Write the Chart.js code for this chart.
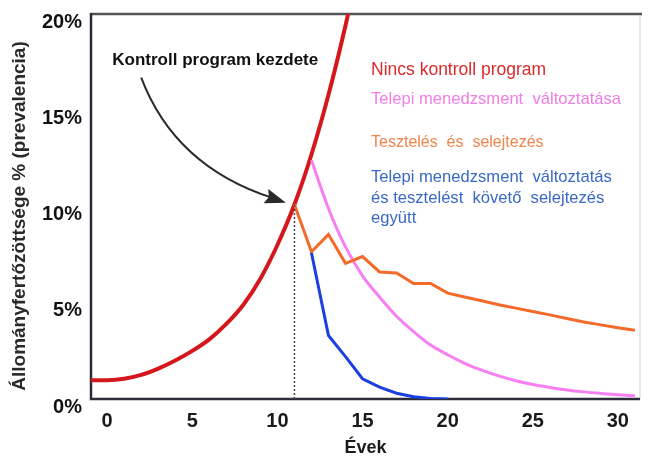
<!DOCTYPE html>
<html>
<head>
<meta charset="utf-8">
<script src="https://cdn.jsdelivr.net/npm/chart.js@4.4.1/dist/chart.umd.min.js"></script>
<style>
html, body { margin: 0; padding: 0; background: #fff; }
#wrap { width: 648px; height: 457px; }
</style>
</head>
<body>
<div id="wrap"><canvas id="chart" width="648" height="457"></canvas></div>
<script>
// adatok
const redYears = [-1, 0, 1, 2, 3, 4, 5, 6, 7, 8, 9, 10, 11, 12, 13, 14, 15];
const redValues = [0.98, 0.98, 1.05, 1.25, 1.58, 2.0, 2.5, 3.1, 3.9, 4.9, 6.25, 8.0, 10.1, 12.7, 15.8, 19.4, 23.5];

const pinkYears = [12, 13, 14, 15, 16, 17, 18, 19, 20, 21, 22, 23, 24, 25, 26, 27, 28, 29, 30, 31];
const pinkValues = [12.4, 9.9, 7.9, 6.4, 5.3, 4.3, 3.5, 2.8, 2.3, 1.85, 1.5, 1.2, 0.95, 0.75, 0.6, 0.47, 0.37, 0.29, 0.22, 0.17];

const orangeYears = [11, 12, 13, 14, 15, 16, 17, 18, 19, 20, 21, 22, 23, 24, 25, 26, 27, 28, 29, 30, 31];
const orangeValues = [10.1, 7.65, 8.55, 7.05, 7.4, 6.6, 6.55, 6.0, 6.0, 5.5, 5.3, 5.1, 4.9, 4.72, 4.55, 4.37, 4.18, 4.0, 3.85, 3.7, 3.57];

const blueYears = [12, 13, 14, 15, 16, 17, 18, 19, 20];
const blueValues = [7.6, 3.3, 2.2, 1.05, 0.62, 0.3, 0.12, 0.03, 0];

const startYear = 11;          // kontroll program kezdete
const startValue = 10.1;

const xTicks = [0, 5, 10, 15, 20, 25, 30];
const yTicks = [0, 5, 10, 15, 20];

const xTitle = 'Évek';
const yTitle = 'Állományfertőzöttsége % (prevalencia)';
const startLabel = 'Kontroll program kezdete';
const legendLines = [
    { text: 'Nincs kontroll program', color: '#dc2a2a', y: 17.1, size: 17.5 },
    { text: 'Telepi menedzsment  változtatása', color: '#f27ce8', y: 15.55, size: 16.6 },
    { text: 'Tesztelés  és  selejtezés', color: '#f0844c', y: 13.3, size: 16 },
    { text: 'Telepi menedzsment  változtatás', color: '#3a68c6', y: 11.5, size: 16.6 },
    { text: 'és tesztelést  követő  selejtezés', color: '#3a68c6', y: 10.42, size: 16.6 },
    { text: 'együtt', color: '#3a68c6', y: 9.38, size: 16.6 }
];

const FONT = "'Liberation Sans', Arial, sans-serif";
const toPoints = (xs, ys) => xs.map((x, i) => ({ x, y: ys[i] }));

// nyíl, feliratok, keret
const overlay = {
    id: 'overlay',
    beforeDatasetsDraw(chart) {
        const { ctx, chartArea: a } = chart;
        ctx.save();
        ctx.lineWidth = 1;
        ctx.strokeStyle = '#d0d0d0';
        ctx.beginPath(); ctx.moveTo(a.right, a.top); ctx.lineTo(a.right, a.bottom); ctx.stroke();
        ctx.lineWidth = 2.5;
        ctx.strokeStyle = '#555';
        ctx.beginPath(); ctx.moveTo(a.left, a.top); ctx.lineTo(a.right + 2, a.top); ctx.stroke();
        ctx.strokeStyle = '#2c2c3a';
        ctx.beginPath();
        ctx.moveTo(a.left, a.top - 1); ctx.lineTo(a.left, a.bottom); ctx.lineTo(a.right, a.bottom);
        ctx.stroke();
        ctx.restore();
    },
    afterDatasetsDraw(chart) {
        const { ctx, scales: { x, y } } = chart;
        const px = v => x.getPixelForValue(v), py = v => y.getPixelForValue(v);
        ctx.save();

        // görbe nyíl
        const p0 = [px(2.0), py(16.7)], c = [px(3.97), py(12.1)], p2 = [px(10.5), py(10.2)];
        ctx.strokeStyle = '#2a2a2e';
        ctx.lineWidth = 2;
        ctx.beginPath();
        ctx.moveTo(p0[0], p0[1]);
        ctx.quadraticCurveTo(c[0], c[1], p2[0] - 14, p2[1] - 5);
        ctx.stroke();
        const ang = Math.atan2(p2[1] - c[1], p2[0] - c[0]);
        ctx.fillStyle = '#2a2a2e';
        ctx.translate(p2[0], p2[1]);
        ctx.rotate(ang);
        ctx.beginPath();
        ctx.moveTo(0, 0); ctx.lineTo(-21, -7.5); ctx.lineTo(-18, 0); ctx.lineTo(-21, 7.5);
        ctx.closePath(); ctx.fill();
        ctx.setTransform(1, 0, 0, 1, 0, 0);

        // feliratok
        ctx.textBaseline = 'middle';
        ctx.textAlign = 'left';
        ctx.fillStyle = '#111';
        ctx.font = `bold 17px ${FONT}`;
        ctx.fillText(startLabel, px(0.3), py(17.6));

        legendLines.forEach(l => {
            ctx.font = `${l.size}px ${FONT}`;
            ctx.fillStyle = l.color;
            ctx.fillText(l.text, px(15.5), py(l.y));
        });

        // y tengely cím
        ctx.font = `bold 19px ${FONT}`;
        ctx.fillStyle = '#2a2a2a';
        ctx.textAlign = 'center';
        ctx.translate(20, 216);
        ctx.rotate(-Math.PI / 2);
        ctx.fillText(yTitle, 0, 0);
        ctx.restore();
    }
};

const lineStyle = (color, width) => ({
    borderColor: color, backgroundColor: color, borderWidth: width,
    pointRadius: 0, fill: false
});

new Chart(document.getElementById('chart'), {
    type: 'line',
    data: {
        datasets: [
            { ...lineStyle('#444', 1.5), data: toPoints([startYear, startYear], [0, startValue]), borderDash: [2, 2] },
            { ...lineStyle('#1c3fe0', 3), data: toPoints(blueYears, blueValues) },
            { ...lineStyle('#f36b2a', 3), data: toPoints(orangeYears, orangeValues) },
            { ...lineStyle('#f77ff2', 3), data: toPoints(pinkYears, pinkValues), tension: 0.35 },
            { ...lineStyle('#d4171d', 4), data: toPoints(redYears, redValues), cubicInterpolationMode: 'monotone' }
        ]
    },
    options: {
        responsive: false,
        animation: false,
        devicePixelRatio: 1,
        layout: { padding: { top: 14, right: 8, left: 0, bottom: 0 } },
        plugins: { legend: { display: false }, tooltip: { enabled: false } },
        scales: {
            x: {
                type: 'linear', min: -0.95, max: 31.3,
                grid: { display: false }, border: { display: false },
                afterBuildTicks: s => { s.ticks = xTicks.map(v => ({ value: v })); },
                afterFit: s => { s.height = 58; },
                ticks: { color: '#1a1a1a', padding: 2, font: { family: FONT, size: 20, weight: 'bold' } },
                title: { display: true, text: xTitle, color: '#1a1a1a', padding: { top: 0, bottom: -2 },
                    font: { family: FONT, size: 18, weight: 'bold' } }
            },
            y: {
                min: 0, max: 20,
                grid: { display: false }, border: { display: false },
                afterBuildTicks: s => { s.ticks = yTicks.map(v => ({ value: v })); },
                afterFit: s => { s.width = 91; },
                ticks: { color: '#111', padding: 1, labelOffset: 8, callback: v => v + '%',
                    font: { family: FONT, size: 20, weight: 'bold' } }
            }
        }
    },
    plugins: [overlay]
});
</script>
</body>
</html>
